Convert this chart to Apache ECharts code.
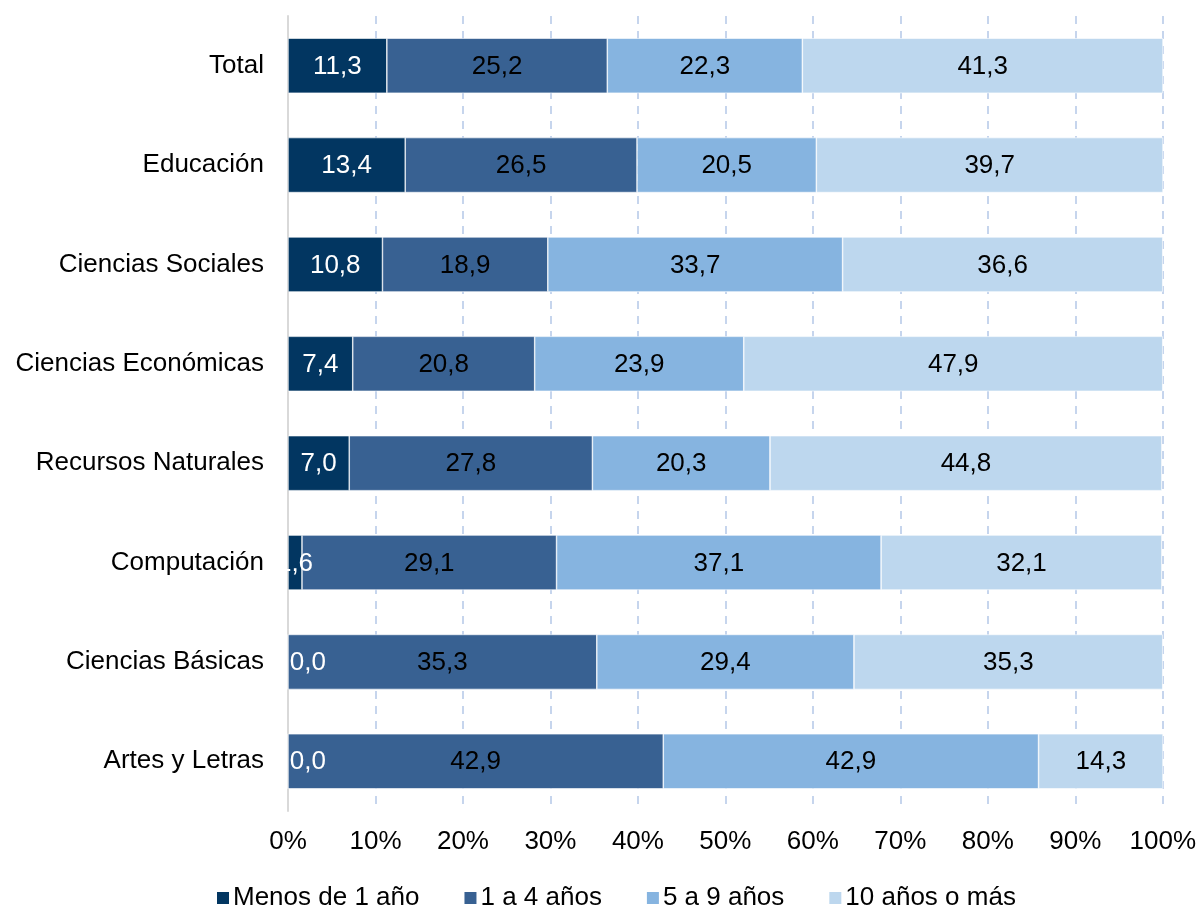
<!DOCTYPE html>
<html>
<head>
<meta charset="utf-8">
<script src="https://cdn.jsdelivr.net/npm/echarts@6/dist/echarts.min.js"></script>
<style>html,body{margin:0;padding:0;background:#fff}#c{width:1199px;height:907px}</style>
</head>
<body>
<div id="c"></div>
<script>
const categories = ["Total","Educación","Ciencias Sociales","Ciencias Económicas","Recursos Naturales","Computación","Ciencias Básicas","Artes y Letras"];
const seriesNames = ["Menos de 1 año","1 a 4 años","5 a 9 años","10 años o más"];
const menos1 = [11.3,13.4,10.8,7.4,7.0,1.6,0.0,0.0];
const de1a4 = [25.2,26.5,18.9,20.8,27.8,29.1,35.3,42.9];
const de5a9 = [22.3,20.5,33.7,23.9,20.3,37.1,29.4,42.9];
const mas10 = [41.3,39.7,36.6,47.9,44.8,32.1,35.3,14.3];
const xTicks = [0,10,20,30,40,50,60,70,80,90,100];

const colors = ['#023661','#386192','#86b4e0','#bdd7ee'];
const labelColors = ['#ffffff','#000000','#000000','#000000'];
const font = 'Liberation Sans, Arial, sans-serif';
const fs = 26;
const fmt = v => (typeof v === 'object' ? v.value : v).toFixed(1).replace('.', ',');

const allData = [menos1, de1a4, de5a9, mas10];
const series = allData.map((arr, i) => ({
  name: seriesNames[i],
  type: 'bar',
  stack: 'total',
  barWidth: 55,
  itemStyle: { color: colors[i], borderColor: '#ffffff', borderWidth: 0.6 },
  label: {
    show: true,
    position: 'inside',
    color: labelColors[i],
    fontFamily: font,
    fontSize: fs,
    offset: [0, 1],
    formatter: p => fmt(p.value)
  },
  data: arr.map(v => v === 0 ? { value: v, label: { position: 'insideLeft', offset: [-3, 1] } } : v)
}));

const chart = echarts.init(document.getElementById('c'), null, { renderer: 'canvas' });
chart.setOption({
  animation: false,
  color: colors,
  grid: { left: 288, right: 36, top: 16, bottom: 96, containLabel: false },
  legend: {
    data: seriesNames,
    top: 880,
    left: 210,
    icon: 'rect',
    itemWidth: 14,
    itemHeight: 14,
    itemGap: 43,
    textStyle: { fontFamily: font, fontSize: fs, color: '#000', padding: [0, 0, 0, -2] }
  },
  xAxis: {
    type: 'value',
    min: 0,
    max: 100,
    interval: 10,
    axisLine: { show: false },
    axisTick: { show: false },
    axisLabel: { fontFamily: font, fontSize: fs, color: '#000', margin: 18, formatter: v => v + '%' },
    splitLine: { show: true, lineStyle: { color: '#b4c7e7', width: 1.5, type: [8, 7] } }
  },
  yAxis: {
    type: 'category',
    inverse: true,
    data: categories,
    axisLine: { show: true, lineStyle: { color: '#d9d9d9', width: 2 } },
    axisTick: { show: false },
    axisLabel: { fontFamily: font, fontSize: fs, color: '#000', margin: 24 }
  },
  series: series
});
</script>
</body>
</html>
